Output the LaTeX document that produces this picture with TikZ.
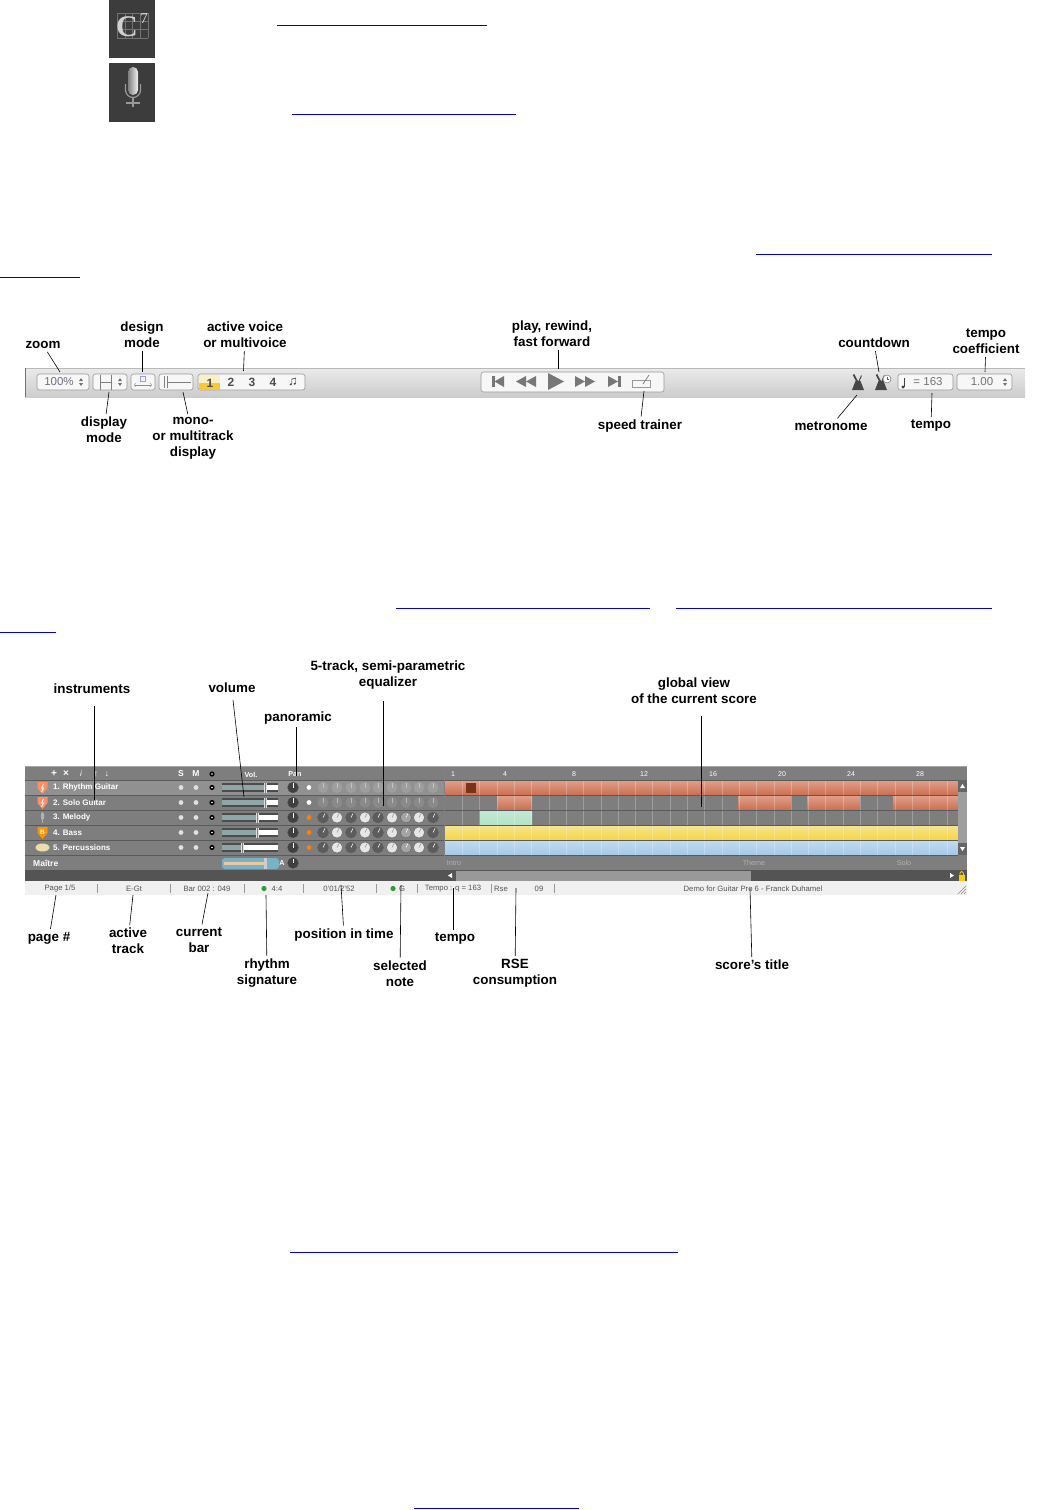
\documentclass[tikz,border=0pt]{standalone}
\usepackage{fontspec}
\usepackage{tikz}
\usetikzlibrary{calc}
\setmainfont{Liberation Sans}
\newfontfamily\iconserif{Liberation Serif}
\definecolor{linkblue}{HTML}{0000E6}
\definecolor{mixerbg}{HTML}{7E7E7E}
\definecolor{mixerline}{HTML}{5A5A5A}
\definecolor{kdark}{HTML}{5C5C5C}
\definecolor{kwhite}{HTML}{E6E6E6}
\definecolor{kgray}{HTML}{A4A4A4}
\definecolor{iconbg}{HTML}{3C3C3C}
\definecolor{icongray}{HTML}{777777}
\definecolor{statustxt}{HTML}{555555}
\definecolor{redtop}{HTML}{DFA08C}
\definecolor{redbot}{HTML}{CB6E50}
\definecolor{yeltop}{HTML}{F5E394}
\definecolor{yelbot}{HTML}{F6D63E}
\definecolor{blutop}{HTML}{C4DAEE}
\definecolor{blubot}{HTML}{A3C8E8}
\definecolor{grntop}{HTML}{C2E8D4}
\definecolor{grnbot}{HTML}{B4E2C8}
\definecolor{sliderfill}{HTML}{8FA6A6}
\tikzset{
  lbl/.style={font=\fontsize{13.4}{15.8}\selectfont\bfseries, align=center, inner sep=3pt, yshift=-1pt},
  conn/.style={draw=black, line width=0.6pt},
  link/.style={draw=linkblue, line width=1pt},
  btn/.style={draw=black!40, fill=white!97!black, rounded corners=2.5pt, line width=0.6pt},
  uitxt/.style={font=\fontsize{11.5}{12}\selectfont, text=black!55, inner sep=0pt},
  voice/.style={font=\fontsize{12}{12}\selectfont\bfseries, text=black!70, inner sep=0pt},
  hdr/.style={font=\fontsize{7.2}{8}\selectfont\bfseries, text=white, inner sep=0pt},
  trackname/.style={font=\fontsize{8}{9}\selectfont\bfseries, text=white, inner sep=0pt, anchor=west},
  stat/.style={font=\fontsize{7.7}{9}\selectfont, text=statustxt, inner sep=0pt},
  ruler/.style={font=\fontsize{7}{8}\selectfont, text=white, inner sep=0pt},
  part/.style={font=\fontsize{7.2}{8}\selectfont, text=black!30, inner sep=0pt},
  knob/.style={draw=black!65, line width=0.3pt}
}
\newcommand{\spinner}[2]{
  \fill[black!55] (#1 - 2, #2 - 1) -- (#1 + 2, #2 - 1) -- (#1, #2 - 4) -- cycle;
  \fill[black!55] (#1 - 2, #2 + 1) -- (#1 + 2, #2 + 1) -- (#1, #2 + 4) -- cycle;
}
\newcommand{\metro}[1]{
  \fill[black!72] (#1 - 6, 390) -- (#1 - 2.5, 381) -- (#1 + 2.5, 381) -- (#1 + 6, 390) -- cycle;
  \draw[black!72, line width=1.8pt] (#1 - 4.5, 374.5) -- (#1 + 1, 385);
  \draw[black!72, line width=1pt] (#1 + 3.5, 375.5) -- (#1 + 1, 381);
}
\begin{document}
\begin{tikzpicture}[x=1pt, y=-1pt]
      \useasboundingbox (0, 0) rectangle (1051, 1510);
      \draw[link] (277, 25) -- (487, 25);
      \draw[link] (292, 114) -- (516, 114);
      \draw[link] (756, 254) -- (992, 254);
      \draw[link] (0, 277) -- (80, 277);
      \draw[link] (396, 608) -- (650, 608);
      \draw[link] (676, 608) -- (992, 608);
      \draw[link] (0, 632) -- (56, 632);
      \draw[link] (290, 1252) -- (678, 1252);
      \draw[link] (414, 1508) -- (579, 1508);
      \fill[iconbg] (109, 0) rectangle (155, 58);
      \foreach \gx in {117, 124.8, 132.6, 140.4, 148} \draw[black!55, line width=0.3pt] (\gx, 13) -- (\gx, 38);
      \foreach \gy in {13, 21.3, 29.6, 38} \draw[black!55, line width=0.3pt] (117, \gy) -- (148, \gy);
      \node[font=\iconserif\fontsize{30}{30}\selectfont\bfseries, text=black!18, inner sep=0pt] (chordc) at (127, 27) {C};
      \node[font=\iconserif\fontsize{15}{15}\selectfont, text=black!10, inner sep=0pt] (chordseven) at (144, 19) {7};
      \fill[iconbg] (109, 63) rectangle (155, 122);
      \fill[left color=black!50, right color=black!5, rounded corners=4.8pt] (128, 67) rectangle (138, 95);
      \draw[black!40, line width=1.2pt] (125.5, 84) -- (125.5, 90) arc[start angle=180, end angle=360, radius=7.5pt] -- (140.5, 84);
      \draw[black!40, line width=1.2pt] (133, 97) -- (133, 107);
      \draw[black!40, line width=1.2pt] (126, 103) -- (140, 103);
      \fill[top color=black!8, bottom color=black!20] (25, 368) rectangle (1025, 397);
      \draw[black!28, line width=0.6pt] (25, 368) -- (1025, 368);
      \draw[black!55, line width=0.8pt] (25, 368) -- (25, 397);
      \draw[btn] (37, 374) rectangle (89, 390);
      \node[uitxt, text=black!40!blue!12!gray] (zoomval) at (59, 382) {100\%};
      \spinner{81}{382}
      \draw[btn] (93, 374) rectangle (127, 390);
      \draw[black!50, line width=0.5pt] (100, 374.5) -- (100, 389.5);
      \draw[black!50, line width=0.5pt] (111, 374.5) -- (111, 389.5);
      \draw[black!50, line width=0.5pt] (100, 382) -- (111, 382);
      \spinner{120}{382}
      \draw[btn] (131, 374) rectangle (155, 390);
      \draw[blue!40, line width=0.5pt] (140.5, 376.5) rectangle (145.5, 381);
      \draw[black!45, line width=0.5pt, <->] (134, 385) -- (152, 385);
      \draw[btn] (159, 374) rectangle (193, 390);
      \draw[black!50, line width=0.5pt] (164, 376) -- (164, 388);
      \draw[black!50, line width=0.5pt] (167, 382) -- (191, 382);
      \draw[black!50, line width=0.5pt] (167, 376) -- (167, 388);
      \draw[btn] (198, 374) rectangle (305, 390);
      \fill[yeltop!55!white] (198.5, 374.5) rectangle (220, 382.5);
      \fill[yelbot!85!orange] (198.5, 382.5) rectangle (220, 389.5);
      \node[voice] (voiceone) at (210, 383) {1};
      \node[voice] (voicetwo) at (231, 382.5) {2};
      \node[voice] (voicethree) at (252, 382.5) {3};
      \node[voice] (voicefour) at (273, 382.5) {4};
      \node[voice, font=\fontsize{13}{13}\selectfont\bfseries, text=black!75] (voicemulti) at (293, 382) {\char"266B};
      \draw[btn] (481, 372) rectangle (664, 392);
      \fill[icongray] (492, 376) rectangle (494.5, 387);
      \fill[icongray] (504, 376) -- (504, 387) -- (494.5, 381.5) -- cycle;
      \fill[icongray] (526, 376) -- (526, 387) -- (516, 381.5) -- cycle;
      \fill[icongray] (536, 376) -- (536, 387) -- (526, 381.5) -- cycle;
      \fill[icongray] (548, 373) -- (548, 390) -- (564, 381.5) -- cycle;
      \fill[icongray] (575, 376) -- (575, 387) -- (585, 381.5) -- cycle;
      \fill[icongray] (585, 376) -- (585, 387) -- (595, 381.5) -- cycle;
      \fill[icongray] (608, 376) -- (608, 387) -- (618, 381.5) -- cycle;
      \fill[icongray] (618, 376) rectangle (620.5, 387);
      \draw[black!40, line width=0.5pt] (632, 380) rectangle (650, 387);
      \draw[black!50, line width=0.8pt] (643, 384) -- (649, 375);
      \metro{858}
      \metro{881}
      \draw[black!60, fill=white, line width=0.4pt] (887, 379) circle (4pt);
      \draw[black!60, line width=0.4pt] (887, 376.5) -- (887, 379) -- (889, 379);
      \draw[btn] (898, 374) rectangle (953, 390);
      \fill[black!75] (903, 387) circle (1.7pt);
      \draw[black!75, line width=0.6pt] (904.5, 387) -- (904.5, 378);
      \node[uitxt] (tempoval) at (928, 382) {= 163};
      \draw[btn] (957, 374) rectangle (1012, 390);
      \node[uitxt] (coefval) at (982, 382) {1.00};
      \spinner{1005}{382}
      \node[lbl] (zoomlbl) at (43, 344) {zoom};
      \node[lbl] (designlbl) at (142, 334) {design\\mode};
      \node[lbl] (voicelbl) at (245, 334) {active voice\\or multivoice};
      \node[lbl] (displaylbl) at (104, 429) {display\\mode};
      \node[lbl] (monolbl) at (193, 437) {mono-\\or multitrack\\display};
      \node[lbl] (playlbl) at (552, 333) {play, rewind,\\fast forward};
      \node[lbl] (countlbl) at (874, 342) {countdown};
      \node[lbl] (coeflbl) at (986, 340.5) {tempo\\coefficient};
      \node[lbl] (speedlbl) at (640, 425) {speed trainer};
      \node[lbl] (metrolbl) at (831, 425) {metronome};
      \node[lbl] (tempolbl) at (931, 425) {tempo};
      \coordinate (zoomtip) at (60, 372);
      \coordinate (designtip) at (142, 372);
      \coordinate (voicetip) at (243.5, 371);
      \coordinate (displaytip) at (109, 392);
      \coordinate (monotip) at (183, 392);
      \coordinate (playtip) at (558, 369);
      \coordinate (counttip) at (879, 372);
      \coordinate (coeftip) at (985, 372);
      \coordinate (speedtip) at (644, 391);
      \coordinate (metrotip) at (857, 395);
      \coordinate (tempotip) at (932, 393);
      \draw[conn] (zoomlbl) -- (zoomtip);
      \draw[conn] (designlbl) -- (designtip);
      \draw[conn] (voicelbl) -- (voicetip);
      \draw[conn] (displaylbl) -- (displaytip);
      \draw[conn] (monolbl) -- (monotip);
      \draw[conn] (playlbl.south -| playtip) -- (playtip);
      \draw[conn] (countlbl) -- (counttip);
      \draw[conn] (coeflbl) -- (coeftip);
      \draw[conn] (speedlbl) -- (speedtip);
      \draw[conn] (metrolbl) -- (metrotip);
      \draw[conn] (tempolbl) -- (tempotip);
      \fill[mixerbg] (25, 767) rectangle (967, 881);
      \draw[black!35, line width=1pt] (25, 766.5) -- (967, 766.5);
      \fill[black!43] (25, 780) rectangle (445, 795);
      \foreach \rx/\rw in {453/1, 505/4, 574/8, 644/12, 713/16, 782/20, 851/24, 920/28} \node[ruler] (ruler\rw) at (\rx, 774) {\rw};
      \fill[top color=redtop, bottom color=redbot] (445, 780.5) rectangle (958, 795);
      \fill[top color=redtop, bottom color=redbot] (497, 795.5) rectangle (532, 810);
      \fill[top color=redtop, bottom color=redbot] (738, 795.5) rectangle (791, 810);
      \fill[top color=redtop, bottom color=redbot] (807, 795.5) rectangle (860, 810);
      \fill[top color=redtop, bottom color=redbot] (893, 795.5) rectangle (958, 810);
      \fill[top color=grntop, bottom color=grnbot] (480, 810.5) rectangle (532, 825);
      \fill[top color=yeltop, bottom color=yelbot] (445, 825.5) rectangle (958, 840);
      \fill[top color=blutop, bottom color=blubot] (445, 840.5) rectangle (958, 855);
      \fill[black!70!red!60!brown] (466, 783) rectangle (476, 793);
      \foreach \gx in {1, ..., 29} \draw[white, opacity=0.25, line width=0.4pt] ($(445, 780) + (17.3 * \gx, 0)$) -- ($(445, 855) + (17.3 * \gx, 0)$);
      \foreach \ry in {780, 795, 810, 825, 840, 855, 870} \draw[mixerline, line width=0.8pt] (25, \ry) -- (958, \ry);
      \draw[black!50, line width=0.8pt] (444.5, 767) -- (444.5, 881);
      \fill[black!38] (958, 780) rectangle (967, 855);
      \fill[black!60] (958, 780) rectangle (967, 792);
      \fill[black!60] (958, 843) rectangle (967, 855);
      \fill[white] (960, 788) -- (965, 788) -- (962.5, 784) -- cycle;
      \fill[white] (960, 847) -- (965, 847) -- (962.5, 851) -- cycle;
      \fill[black!67] (25, 870) rectangle (967, 881);
      \fill[black!40] (456, 870.5) rectangle (751, 881);
      \fill[white] (452, 873) -- (452, 878) -- (448, 875.5) -- cycle;
      \fill[white] (950, 873) -- (950, 878) -- (954, 875.5) -- cycle;
      \fill[yellow!65!orange] (958.5, 875) rectangle (965, 880.5);
      \draw[yellow!65!orange, line width=0.8pt] (960, 875) -- (960, 873) arc[start angle=180, end angle=0, radius=1.7pt] -- (963.4, 875);
      \fill[black!6] (25, 881) rectangle (967, 895);
      \node[hdr, font=\fontsize{10}{10}\selectfont\bfseries] (addtrack) at (54, 774) {+};
      \node[hdr, font=\fontsize{10}{10}\selectfont\bfseries] (deltrack) at (66, 774) {×};
      \node[hdr, font=\fontsize{8}{9}\selectfont\itshape] (infotrack) at (81, 774) {i};
      \node[hdr, font=\fontsize{8.5}{9}\selectfont\bfseries] (uptrack) at (96, 774) {↑};
      \node[hdr, font=\fontsize{8.5}{9}\selectfont\bfseries] (downtrack) at (107, 774) {↓};
      \node[hdr, font=\fontsize{8.5}{9}\selectfont\bfseries] (solohdr) at (181, 774) {S};
      \node[hdr, font=\fontsize{8.5}{9}\selectfont\bfseries] (mutehdr) at (196, 774) {M};
      \node[hdr] (volhdr) at (251, 774.5) {Vol.};
      \node[hdr] (panhdr) at (295, 774.5) {Pan};
      \fill[black] (212, 774) circle (2.6pt);
      \fill[white] (212, 774) circle (0.8pt);
      \node[trackname] (trackone) at (53, 787.5) {1. Rhythm Guitar};
      \node[trackname] (tracktwo) at (53, 802.5) {2. Solo Guitar};
      \node[trackname] (trackthree) at (53, 817.5) {3. Melody};
      \node[trackname] (trackfour) at (53, 832.5) {4. Bass};
      \node[trackname] (trackfive) at (53, 847.5) {5. Percussions};
      \node[trackname, font=\fontsize{8.5}{9}\selectfont\bfseries] (master) at (33, 863.5) {Maître};
      \fill[orange!55!red!60!white] (37.5, 782) -- (47.5, 782) -- (47.5, 788) -- (42.5, 794) -- (37.5, 788) -- cycle;
      \draw[white, line width=0.7pt] (43.5, 784) -- (41.5, 788) -- (43.5, 788) -- (41.5, 792);
      \fill[orange!55!red!60!white] (37.5, 797) -- (47.5, 797) -- (47.5, 803) -- (42.5, 809) -- (37.5, 803) -- cycle;
      \draw[white, line width=0.7pt] (43.5, 799) -- (41.5, 803) -- (43.5, 803) -- (41.5, 807);
      \fill[black!30, rounded corners=1.5pt] (41, 812) rectangle (44, 820);
      \draw[black!30, line width=0.5pt] (42.5, 820) -- (42.5, 823);
      \fill[orange!85!yellow] (37.5, 827) -- (47.5, 827) -- (47.5, 833) -- (42.5, 839) -- (37.5, 833) -- cycle;
      \node[hdr, font=\fontsize{6.5}{7}\selectfont\bfseries] (bassbadge) at (42.5, 832) {B};
      \fill[yellow!30!brown!40!white] (42.5, 847.5) ellipse (7pt and 4pt);
      \foreach \ky/\thx/\dotc in {787.5/265/white, 802.5/265/white, 817.5/257/orange, 832.5/257/orange, 847.5/242/orange} {
        \fill[black!12] (181, \ky) circle (2.4pt);
        \fill[black!12] (196, \ky) circle (2.4pt);
        \fill[black] (212, \ky) circle (2.6pt);
        \fill[white] (212, \ky) circle (0.8pt);
        \fill[black!70] (222, \ky - 4.5) rectangle (278, \ky + 4.5);
        \fill[white] (222, \ky - 2.5) rectangle (278, \ky + 2.5);
        \fill[sliderfill] (222, \ky - 2.5) rectangle (\thx, \ky + 2.5);
        \fill[black!12] (\thx - 1.5, \ky - 5) rectangle (\thx + 1.5, \ky + 5);
        \draw[black!50, line width=0.4pt] (\thx, \ky - 5) -- (\thx, \ky + 5);
        \draw[knob, fill=black!75] (293, \ky) circle (5.5pt);
        \draw[white, line width=0.6pt] (293, \ky) -- (293, \ky - 4.5);
        \fill[\dotc] (309, \ky) circle (2.4pt);
      }
      \foreach \kx in {323, 337, 351, 365, 378, 392, 406, 419, 433} {
        \fill[black!38] (\kx, 787.5) circle (5.5pt);
        \fill[black!46] (\kx, 802.5) circle (5.5pt);
        \draw[white, line width=0.4pt, opacity=0.4] (\kx, 787.5) -- (\kx, 783);
        \draw[white, line width=0.4pt, opacity=0.4] (\kx, 802.5) -- (\kx, 798);
      }
      \foreach \ky in {817.5, 832.5, 847.5} \foreach \kx/\kc/\kp in {323/kdark/white, 337/kwhite/black!40, 351/kdark/white, 365/kwhite/black!40, 378/kdark/white, 392/kwhite/black!40, 406/kgray/white, 419/kwhite/black!40, 433/kdark/white} {
        \draw[knob, fill=\kc] (\kx, \ky) circle (5.5pt);
        \draw[\kp, line width=0.5pt] (\kx, \ky) -- (\kx + 2, \ky - 4);
      }
      \fill[blue!25!cyan!40!gray!75!white, rounded corners=3pt] (222, 858) rectangle (279, 869);
      \fill[orange!35!white!85!gray] (224, 862) rectangle (264, 865);
      \fill[black!20] (264, 858) rectangle (267, 869);
      \node[hdr] (masterauto) at (282, 863.5) {A};
      \draw[knob, fill=black!75] (293, 863) circle (5.5pt);
      \draw[white, line width=0.6pt] (293, 863) -- (293, 858.5);
      \node[part] (partintro) at (454, 863) {Intro};
      \node[part] (parttheme) at (754, 863) {Theme};
      \node[part] (partsolo) at (904, 863) {Solo};
      \node[stat] (statpage) at (60, 888.5) {Page 1/5};
      \node[stat] (stattrack) at (134, 888.5) {E-Gt};
      \node[stat] (statbar) at (207, 888.5) {Bar 002 : 049};
      \node[stat] (statsig) at (277, 888.5) {4:4};
      \node[stat] (stattime) at (339, 888.5) {0'01/2'52};
      \node[stat] (statnote) at (402, 888.5) {G};
      \node[stat] (stattempo) at (453, 888.5) {Tempo : q = 163};
      \node[stat] (statrse) at (501, 888.5) {Rse};
      \node[stat] (statcons) at (539, 888.5) {09};
      \node[stat] (stattitle) at (753, 888.5) {Demo for Guitar Pro 6 - Franck Duhamel};
      \fill[green!50!black!80!white] (264, 888.5) circle (2.6pt);
      \fill[green!50!black!80!white] (393, 888.5) circle (2.6pt);
      \foreach \sx in {97, 170, 244, 303, 376, 417, 491, 554} \draw[black!40, line width=0.4pt] (\sx, 884) -- (\sx, 893);
      \draw[black!45, line width=0.4pt] (958, 894) -- (966, 886);
      \draw[black!45, line width=0.4pt] (961, 894) -- (966, 889);
      \draw[black!45, line width=0.4pt] (964, 894) -- (966, 892);
      \node[lbl] (instrlbl) at (92, 688) {instruments};
      \node[lbl] (vollbl) at (232, 687) {volume};
      \node[lbl] (panlbl) at (298, 717) {panoramic};
      \node[lbl] (eqlbl) at (388, 674) {5-track, semi-parametric\\equalizer};
      \node[lbl] (globallbl) at (694, 690) {global view\\of the current score};
      \node[lbl] (pagelbl) at (49, 937) {page \#};
      \node[lbl] (activelbl) at (128, 940) {active\\track};
      \node[lbl] (curbarlbl) at (199, 939) {current\\bar};
      \node[lbl] (rhythmlbl) at (267, 972) {rhythm\\signature};
      \node[lbl] (poslbl) at (344, 934) {position in time};
      \node[lbl] (notelbl) at (400, 973) {selected\\note};
      \node[lbl] (stempolbl) at (455, 938) {tempo};
      \node[lbl] (rselbl) at (515, 972) {RSE\\consumption};
      \node[lbl] (titlelbl) at (752, 964) {score's title};
      \coordinate (instrtip) at (94, 800);
      \coordinate (voltip) at (244, 797);
      \coordinate (pantip) at (296, 776);
      \coordinate (eqtip) at (383, 806);
      \coordinate (globaltip) at (701, 807);
      \coordinate (pagetip) at (56, 895);
      \coordinate (activetip) at (133, 895);
      \coordinate (curbartip) at (208, 893);
      \coordinate (rhythmtip) at (266, 895);
      \coordinate (postip) at (341, 885);
      \coordinate (notetip) at (401, 885);
      \coordinate (stempotip) at (453, 888);
      \coordinate (rsetip) at (516, 888);
      \coordinate (titletip) at (750, 888);
      \draw[conn] (instrlbl.south -| instrtip) ++(0, 9) -- (instrtip);
      \draw[conn] (vollbl) ++(1, 12) -- (voltip);
      \draw[conn] (panlbl.south -| pantip) -- (pantip);
      \draw[conn] (eqlbl.south -| eqtip) ++(0, 9) -- (eqtip);
      \draw[conn] (globallbl.south -| globaltip) ++(0, 9) -- (globaltip);
      \draw[conn] (pagelbl) -- (pagetip);
      \draw[conn] (activelbl) -- (activetip);
      \draw[conn] (curbarlbl) -- (curbartip);
      \draw[conn] (rhythmlbl) -- (rhythmtip);
      \draw[conn] (poslbl) -- (postip);
      \draw[conn] (notelbl) -- (notetip);
      \draw[conn] (stempolbl.north -| stempotip) -- (stempotip);
      \draw[conn] (rselbl) -- (rsetip);
      \draw[conn] (titlelbl) -- (titletip);
    \end{tikzpicture}
\end{document}
